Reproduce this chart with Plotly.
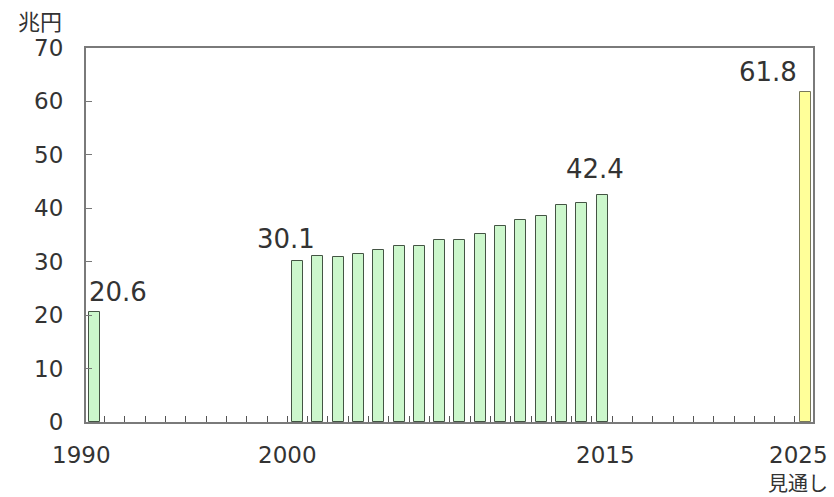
import plotly.graph_objects as go

# Data
years_actual = [1990, 2000, 2001, 2002, 2003, 2004, 2005, 2006, 2007, 2008,
                2009, 2010, 2011, 2012, 2013, 2014, 2015]
values_actual = [20.6, 30.1, 31.1, 30.9, 31.5, 32.2, 33.0, 33.0, 34.1, 34.1,
                 35.2, 36.7, 37.8, 38.5, 40.7, 40.9, 42.4]
years_forecast = [2025]
values_forecast = [61.8]
tick_years = [1990, 2000, 2015, 2025]
tick_labels = ["1990", "2000", "2015", "2025"]
forecast_note = "見通し"
labeled_years = [1990, 2000, 2015]

# Styling (label nudges in pixels)
label_nudge_px = [-13, -10, 3, -7]
FONT = "DejaVu Sans, Verdana, sans-serif"
JFONT = "Noto Sans CJK JP, sans-serif"
TXT = "#333333"
BW = 0.54

fig = go.Figure()
fig.add_trace(go.Bar(
    x=years_actual, y=values_actual, width=BW,
    marker=dict(color="#ccf7cc", line=dict(color="#445444", width=1)),
    hoverinfo="x+y",
))
fig.add_trace(go.Bar(
    x=years_forecast, y=values_forecast, width=BW,
    marker=dict(color="#ffff99", line=dict(color="#77775a", width=1)),
    hoverinfo="x+y",
))

lab_font = dict(size=26, color=TXT, family=FONT)
# Data labels
for yr, v in zip(years_actual, values_actual):
    if yr not in labeled_years:
        continue
    if yr == 1990:
        fig.add_annotation(x=yr, y=v, text=f"{v}", xanchor="left", yanchor="bottom",
                           showarrow=False, xshift=-8, yshift=3, font=lab_font)
    elif yr == 2000:
        fig.add_annotation(x=yr, y=v, text=f"{v}", xanchor="center", yanchor="bottom",
                           showarrow=False, xshift=-12, yshift=5, font=lab_font)
    else:
        fig.add_annotation(x=yr, y=v, text=f"{v}", xanchor="center", yanchor="bottom",
                           showarrow=False, xshift=-7, yshift=9, font=lab_font)
for yr, v in zip(years_forecast, values_forecast):
    fig.add_annotation(x=yr, y=v, text=f"{v}", xanchor="right", yanchor="bottom",
                       showarrow=False, xshift=-6, yshift=3, font=lab_font)

# X tick labels (drawn as annotations so they can sit off the bar centres)
for yr, lab, dx in zip(tick_years, tick_labels, label_nudge_px):
    fig.add_annotation(x=yr, xref="x", y=0, yref="paper", text=lab,
                       xanchor="center", yanchor="top", showarrow=False,
                       xshift=dx, yshift=-18,
                       font=dict(size=23, color=TXT, family=FONT))
fig.add_annotation(x=years_forecast[0], xref="x", y=0, yref="paper", text=forecast_note,
                   xanchor="center", yanchor="middle", showarrow=False,
                   xshift=-7, yshift=-60,
                   font=dict(size=20, color=TXT, family=JFONT))

fig.add_annotation(xref="paper", yref="paper", x=-0.063, y=1.075, text="兆円",
                   showarrow=False, xanchor="center", yanchor="middle",
                   font=dict(size=22, color=TXT, family=JFONT))

fig.update_layout(
    width=834, height=497,
    margin=dict(l=86, r=21, t=48, b=75, autoexpand=False),
    paper_bgcolor="white", plot_bgcolor="white",
    showlegend=False,
    bargap=0,
    font=dict(family=FONT, size=23, color=TXT),
)
fig.update_xaxes(
    range=[1989.58, 2025.39],
    showticklabels=False,
    ticks="", showgrid=False, zeroline=False, automargin=False,
    showline=True, linecolor="#7a7a7a", linewidth=2, mirror=True,
    minor=dict(tickmode="linear", tick0=1990.5, dtick=1, ticks="inside",
               ticklen=6, tickcolor="#555555", tickwidth=1, showgrid=False),
)
fig.update_yaxes(
    range=[0, 70], dtick=10, ticks="inside", ticklen=6, tickcolor="#777777",
    showgrid=False, zeroline=False, automargin=False,
    showline=True, linecolor="#7a7a7a", linewidth=2, mirror=True,
    tickfont=dict(size=23, color=TXT, family=FONT),
    ticklabelstandoff=16,
)

fig.write_html("out.html")
